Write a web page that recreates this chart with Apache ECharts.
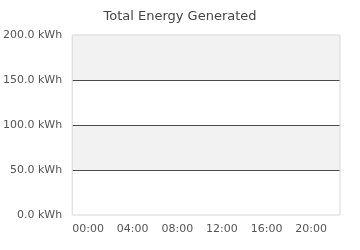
<!DOCTYPE html>
<html>
<head>
<meta charset="utf-8">
<script src="https://cdn.jsdelivr.net/npm/echarts@6/dist/echarts.min.js"></script>
<style>html,body{margin:0;padding:0;background:#fff}#c{width:360px;height:250px}</style>
</head>
<body>
<div id="c"></div>
<script>
var titleText = 'Total Energy Generated';
var xTickHours = [0, 4, 8, 12, 16, 20, 24];
var xTickLabels = ['00:00', '04:00', '08:00', '12:00', '16:00', '20:00', '24:00'];
var yTicks = [0, 50, 100, 150, 200];
var energyValues = []; // no data points shown in reference

var chart = echarts.init(document.getElementById('c'));
chart.setOption({
  animation: false,
  textStyle: { fontFamily: 'DejaVu Sans' },
  title: {
    text: titleText, left: 'center', top: 5,
    textStyle: { fontSize: 13, fontWeight: 'normal', color: '#464646', fontFamily: 'DejaVu Sans' }
  },
  grid: { left: 72, right: 20, top: 35, bottom: 35, show: true, z: 10, borderColor: '#d8d8d8', borderWidth: 1, backgroundColor: 'transparent' },
  xAxis: {
    type: 'value', min: xTickHours[0], max: xTickHours[xTickHours.length - 1], interval: 4,
    axisLine: { show: false }, axisTick: { show: false }, splitLine: { show: false },
    axisLabel: {
      color: '#555', fontSize: 11, margin: 9, align: 'left', showMaxLabel: false,
      formatter: function (v) { var i = xTickHours.indexOf(v); return i >= 0 ? xTickLabels[i] : ''; }
    }
  },
  yAxis: {
    type: 'value', min: yTicks[0], max: yTicks[yTicks.length - 1], interval: 50,
    axisLine: { show: false }, axisTick: { show: false },
    splitLine: { show: true, showMinLine: false, showMaxLine: false, lineStyle: { color: '#4a4a4a', width: 1 } },
    splitArea: { show: true, areaStyle: { color: ['#ffffff', '#f2f2f2'] } },
    axisLabel: { color: '#555', fontSize: 11, margin: 10, formatter: function (v) { return v.toFixed(1) + ' kWh'; } }
  },
  series: [{ type: 'line', data: energyValues, showSymbol: false }]
});
</script>
</body>
</html>
